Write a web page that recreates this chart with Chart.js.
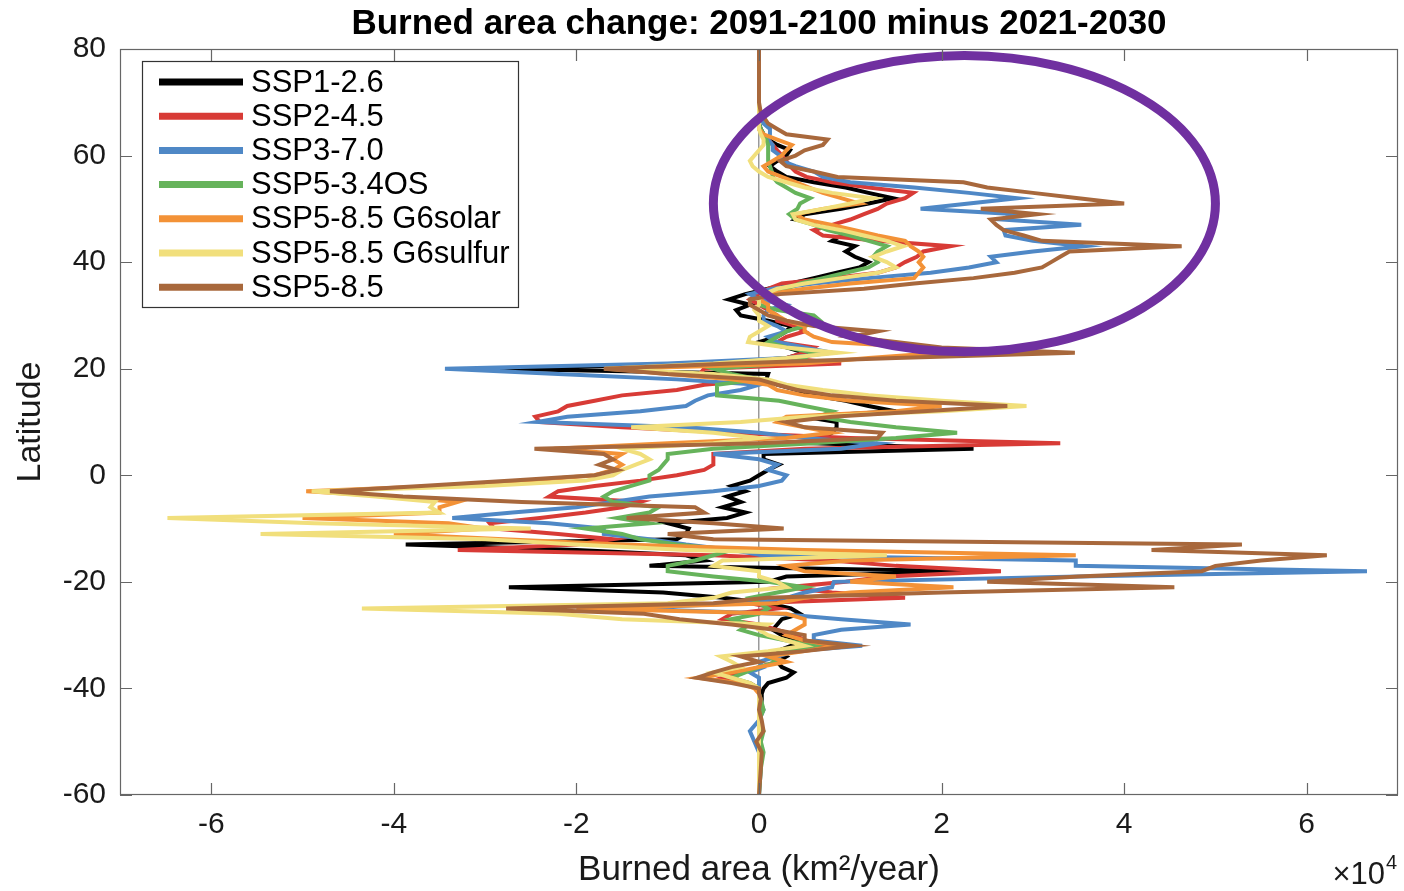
<!DOCTYPE html>
<html>
<head>
<meta charset="utf-8">
<title>Burned area change</title>
<script src="https://cdn.jsdelivr.net/npm/chart.js@4.4.1/dist/chart.umd.min.js"></script>
<style>
  html, body { margin: 0; padding: 0; background: #fff; }
  #chart { display: block; }
</style>
</head>
<body>
<canvas id="chart" width="1404" height="891"></canvas>
<script>
// latitude grid shared by all scenarios (deg N)
var latitudes = [
  -60, -55, -52, -50, -48, -46, -44, -42,
  -41, -40, -39, -38, -37, -36, -35, -34, -33, -32, -31,
  -30, -29, -28, -27, -26, -25, -24, -23, -22, -21,
  -20, -19, -18, -17, -16, -15, -14, -13, -12, -11,
  -10, -9, -8, -7, -6, -5, -4, -3, -2, -1,
  0, 1, 2, 3, 4, 5, 6, 7, 8, 9,
  10, 11, 12, 13, 14, 15, 16, 17, 18, 19,
  20, 21, 22, 23, 24, 25, 26, 27, 28, 29,
  30, 31, 32, 33, 34, 35, 36, 37, 38, 39,
  40, 41, 42, 43, 44, 45, 46, 47, 48, 49,
  50, 51, 52, 53, 54, 55, 56, 57, 58, 59,
  60, 61, 62, 63, 64, 65, 66,
  68, 70, 80
];

// burned area change, units of 10^4 km2/year
var ssp126 = [
  0, 0, 0.02, 0, 0.02, 0, 0.02, 0.03,
  0.03, 0.05, 0.1, 0.3, 0.38, 0.25, 0.2, 0.3, 0.2, 0.35, 0.45,
  0.25, 0.15, 0.2, 0.25, 0.45, 0.35, 0.1, -0.4, -1.05, -2.74,
  0.1, 0.3, 2.28, -1.2, -0.6, -0.8, -2.0, -3.87, -0.9, -0.8,
  -0.77, -1.0, -0.35, -0.15, -0.4, -0.2, -0.35, -0.15, -0.3, -0.1,
  0.0, 0.1, 0.22, 0.05, 0.05, 2.35, 0.6, 0.7, 0.8, 0.85,
  0.85, 0.5, 1.5, 1.2, 0.95, 0.6, 0.42, 0.2, 0.08, 0.1,
  -2.9, -0.5, 0.3, 0.5, 0.3, 0.0, 0.2, 0.3, 0.35, 0.1,
  -0.2, -0.25, -0.1, -0.33, -0.15, 0.1, 0.35, 0.6, 0.85, 1.1,
  1.2, 1.05, 0.95, 1.05, 0.8, 0.9, 1.0, 0.75, 0.4, 0.5,
  0.9, 1.2, 1.47, 1.2, 0.95, 0.6, 0.3, 0.2, 0.12, 0.2,
  0.3, 0.34, 0.2, 0.1, 0.05, 0.02, 0,
  0, 0, 0
];
var ssp245 = [
  0, 0, 0, 0.02, 0, 0, 0.02, 0,
  0, 0, -0.1, -0.4, -0.2, 0.0, 0.2, 0.15, 0.4, 0.8, 0.5,
  0.4, 0.2, 0.0, -0.4, -0.3, 0.2, -0.1, 1.6, 0.8, 0.3,
  0.95, 1.4, 2.65, 1.5, 0.8, -0.5, -3.3, -2.0, -1.6, -2.2,
  -2.9, -2.95, -2.4, -1.9, -1.5, -1.3, -2.3, -2.2, -1.8, -1.3,
  -0.9, -0.6, -0.5, -0.5, -0.5, 0.5, 3.3, 1.0, -0.3, -1.5,
  -2.4, -2.45, -2.2, -2.1, -1.8, -1.5, -0.9, -0.6, 0.05, -0.65,
  -0.6, 0.9, 0.3, 0.5, 0.6, 0.2, 0.3, 0.5, 0.4, 0.2,
  0.2, 0.1, 0.0, -0.1, 0.0, 0.1, 0.25, 0.8, 1.3, 1.5,
  1.6, 1.73, 1.8, 2.1, 1.3, 0.7, 0.6, 0.8, 1.0, 1.15,
  1.3, 1.4, 1.6, 1.69, 1.2, 0.8, 0.52, 0.4, 0.34, 0.3,
  0.25, 0.2, 0.15, 0.1, 0.05, 0.0, 0,
  0, 0, 0
];
var ssp370 = [
  0, 0.02, 0.0, -0.05, -0.1, 0.0, 0.05, 0.0,
  0.0, 0.0, 0.0, 0.0, -0.1, 0.05, 0.0, 0.2, 0.4, 1.13, 0.6,
  0.6, 0.9, 1.66, 0.9, 0.2, -1.5, -0.2, 0.3, 0.5, 0.8,
  0.82, 3.5, 6.66, 3.47, 3.47, 0.03, -0.3, -0.8, -1.2, -1.7,
  -1.7, -2.3, -3.36, -2.7, -2.0, -1.6, -1.2, -0.5, 0.0, 0.25,
  0.3, 0.1, 0.2, 0.0, -0.5, 0.9, 1.3, 0.5, 0.0, -0.8,
  -2.43, -2.1, -1.3, -0.8, -0.7, -0.56, -0.2, 0.0, -0.9, -2.2,
  -3.44, -1.0, 0.3, 0.8, 0.5, 0.2, 0.1, 0.3, 0.2, 0.05,
  0.05, 0.1, 0.28, 0.0, -0.1, 0.15, 0.6, 1.2, 1.88, 2.3,
  2.6, 2.54, 3.0, 3.56, 3.0, 2.7, 2.68, 3.53, 2.65, 2.83,
  1.77, 2.3, 2.83, 2.3, 1.7, 1.0, 0.7, 0.6, 0.4, 0.25,
  0.23, 0.15, 0.15, 0.1, 0.12, 0.12, 0.05,
  0, 0, 0
];
var ssp534os = [
  0, 0.02, 0.05, 0.02, 0.05, 0.0, 0.05, 0.02,
  0.0, 0.0, -0.1, -0.3, -0.15, 0.0, 0.2, 0.1, 0.3, 0.6, 0.3,
  0.0, -0.2, -0.1, -0.3, 0.0, 0.1, 0.0, -0.1, 0.2, 0.5,
  0.1, -0.5, -1.0, -1.0, -0.7, -0.5, -0.3, -0.9, -1.3, -1.5,
  -1.9, -1.2, -1.55, -1.2, -1.1, -1.6, -1.7, -1.6, -1.4, -1.2,
  -1.2, -1.1, -1.05, -1.0, -1.0, -0.5, 0.6, 1.5, 2.17, 1.5,
  1.0, 0.65, 0.8, 0.5, 0.22, -0.46, -0.46, -0.46, 0.0, -0.3,
  -0.5, 0.3, 0.5, 0.6, 0.3, 0.1, 0.2, 0.3, 0.5, 0.67,
  0.6, 0.2, 0.0, 0.0, 0.05, 0.3, 0.45, 0.7, 0.95, 1.2,
  1.3, 1.25, 1.3, 1.4, 1.2, 1.0, 0.75, 0.6, 0.4, 0.33,
  0.42, 0.45, 0.56, 0.4, 0.3, 0.2, 0.15, 0.14, 0.12, 0.1,
  0.1, 0.1, 0.1, 0.08, 0.05, 0.02, 0,
  0, 0, 0
];
var g6solar = [
  0, 0, 0, 0, 0, 0, 0, 0,
  0, -0.05, -0.2, -0.67, -0.3, 0.0, 0.3, 0.1, 0.5, 0.86, 0.5,
  0.3, 0.4, 0.5, 0.5, 0.3, -2.0, 0.2, 0.5, 1.0, 2.13,
  1.0, 1.5, 0.5, 0.3, 1.0, 3.47, 0.5, -1.5, -2.8, -4.0,
  -3.0, -3.4, -5.0, -3.5, -3.5, -3.3, -4.0, -4.96, -3.5, -2.5,
  -1.8, -1.6, -1.5, -1.6, -1.5, -2.25, -1.0, 0.3, 0.8, 0.5,
  0.2, 0.3, 1.5, 2.0, 1.0, 0.5, 0.2, 0.1, -0.3, -1.0,
  -1.6, 0.5, 1.2, 2.0, 1.8, 0.8, 0.6, 0.5, 0.5, 0.3,
  0.2, 0.1, 0.1, 0.0, 0.1, 0.5, 1.0, 1.7, 1.75, 1.8,
  1.75, 1.8, 1.75, 1.66, 1.6, 1.3, 1.05, 0.8, 0.5, 0.4,
  0.7, 1.1, 0.9, 0.7, 0.55, 0.4, 0.25, 0.1, 0.05, 0.15,
  0.25, 0.3, 0.36, 0.2, 0.05, 0.0, 0,
  0, 0, 0
];
var g6sulfur = [
  0, 0, 0, 0, 0, 0, 0, 0,
  0, 0, -0.1, -0.3, -0.5, -0.2, -0.3, -0.42, 0.1, 0.5, 0.3,
  0.1, 0.0, 0.1, -1.5, -2.2, -4.35, -1.0, -0.5, -0.3, 0.3,
  0.2, 0.0, 0.0, -0.5, -0.4, 1.4, -0.8, -2.0, -3.0, -5.46,
  -2.5, -4.87, -6.48, -3.5, -3.6, -3.55, -4.2, -4.9, -3.0, -1.9,
  -1.6, -1.5, -1.35, -1.2, -1.3, -1.5, -0.5, 0.0, -0.5, -1.4,
  -0.2, 0.5, 2.0, 2.93, 2.0, 1.2, 0.7, 0.3, 0.1, -0.5,
  -1.69, -0.5, 0.3, 0.87, 0.3, -0.12, -0.1, 0.0, 0.1, 0.0,
  0.0, -0.05, 0.0, 0.0, 0.05, 0.2, 0.5, 0.9, 1.3, 1.5,
  1.4, 1.25, 1.4, 1.58, 1.4, 1.15, 0.9, 0.6, 0.4, 0.37,
  0.7, 1.0, 1.25, 0.8, 0.5, 0.3, 0.1, 0.0, -0.07, -0.1,
  -0.05, 0.0, 0.05, 0.05, 0.02, 0.0, 0,
  0, 0, 0
];
var ssp585 = [
  0, 0.02, 0.03, -0.03, 0.05, 0.03, 0.0, 0.02,
  0.0, 0.0, -0.3, -0.68, -0.5, -0.3, 0.0, -0.2, 0.5, 1.03, 0.5,
  0.5, 0.17, -0.3, -0.87, -1.26, -2.77, -0.5, 0.09, 2.0, 4.55,
  2.5, 3.5, 4.85, 5.0, 5.5, 6.22, 4.3, 5.29, -0.5, -1.0,
  0.27, -0.5, -1.45, -0.6, -0.7, -2.6, -3.9, -4.7, -3.7, -2.7,
  -1.8, -1.55, -1.75, -1.6, -1.7, -2.46, 0.0, 1.3, 1.35, 0.5,
  0.3, 0.8, 1.8, 2.72, 1.5, 0.8, 0.42, 0.2, 0.0, -1.0,
  -1.7, -0.3, 1.5, 3.46, 2.0, 1.5, 1.0, 1.3, 0.6, 0.3,
  0.1, 0.0, -0.1, -0.1, 0.23, 1.15, 1.7, 2.35, 2.8, 3.1,
  3.2, 3.3, 3.4, 4.63, 3.1, 2.9, 2.68, 2.6, 2.54, 3.05,
  2.43, 4.0, 3.5, 3.0, 2.5, 2.24, 0.86, 0.6, 0.3, 0.23,
  0.4, 0.5, 0.7, 0.75, 0.3, 0.2, 0.1,
  0.02, 0, 0
];

var scenarioNames = ['SSP1-2.6', 'SSP2-4.5', 'SSP3-7.0', 'SSP5-3.4OS', 'SSP5-8.5 G6solar', 'SSP5-8.5 G6sulfur', 'SSP5-8.5'];
var scenarioValues = [ssp126, ssp245, ssp370, ssp534os, g6solar, g6sulfur, ssp585];
var scenarioColors = ['#000000', '#d83b36', '#4f88c6', '#66b35b', '#f39237', '#f1df7c', '#a8683c'];

var xTicks = [-6, -4, -2, 0, 2, 4, 6];
var yTicks = [-60, -40, -20, 0, 20, 40, 60, 80];

// highlighted region (purple ellipse), in data units
var highlight = { x: 2.25, y: 51, rx: 2.75, ry: 27.8 };

Chart.defaults.font.family = '"Liberation Sans", Arial, Helvetica, sans-serif';
Chart.defaults.color = '#1a1a1a';

var datasets = scenarioNames.map(function (name, i) {
    return {
        label: name,
        data: latitudes.map(function (lat, j) { return { x: scenarioValues[i][j], y: lat }; }),
        borderColor: scenarioColors[i],
        backgroundColor: scenarioColors[i],
        borderWidth: 4,
        showLine: true,
        pointRadius: 0,
        tension: 0,
        order: scenarioNames.length - i
    };
});

// box, inward ticks, ellipse, legend, exponent label
var matlabAxes = {
    id: 'matlabAxes',
    afterDatasetsDraw: function (chart) {
        var ctx = chart.ctx, a = chart.chartArea;
        var xs = chart.scales.x, ys = chart.scales.y;
        ctx.save();

        // ellipse
        var cx = xs.getPixelForValue(highlight.x);
        var cy = ys.getPixelForValue(highlight.y);
        var rx = xs.getPixelForValue(highlight.x + highlight.rx) - cx;
        var ry = cy - ys.getPixelForValue(highlight.y + highlight.ry);
        ctx.beginPath();
        ctx.ellipse(cx, cy, rx, ry, 0, 0, Math.PI * 2);
        ctx.strokeStyle = '#7030a0';
        ctx.lineWidth = 9;
        ctx.stroke();

        // axes box
        ctx.strokeStyle = '#666666';
        ctx.lineWidth = 1.2;
        ctx.strokeRect(a.left + 0.5, a.top + 0.5, a.width - 1, a.height - 1);

        // tick marks pointing inwards
        ctx.beginPath();
        xTicks.forEach(function (v) {
            var px = Math.round(xs.getPixelForValue(v)) + 0.5;
            ctx.moveTo(px, a.bottom); ctx.lineTo(px, a.bottom - 12);
            ctx.moveTo(px, a.top); ctx.lineTo(px, a.top + 12);
        });
        yTicks.forEach(function (v) {
            var py = Math.round(ys.getPixelForValue(v)) + 0.5;
            ctx.moveTo(a.left, py); ctx.lineTo(a.left + 12, py);
            ctx.moveTo(a.right, py); ctx.lineTo(a.right - 12, py);
        });
        ctx.stroke();

        // legend box
        var lx = a.left + 22, ly = a.top + 12, lw = 376, lh = 246;
        ctx.fillStyle = '#ffffff';
        ctx.fillRect(lx, ly, lw, lh);
        ctx.strokeStyle = '#333333';
        ctx.lineWidth = 1.2;
        ctx.strokeRect(lx + 0.5, ly + 0.5, lw, lh);
        ctx.font = '31px "Liberation Sans", Arial, sans-serif';
        ctx.textBaseline = 'middle';
        ctx.textAlign = 'left';
        chart.data.datasets.forEach(function (ds, i) {
            var rowY = ly + 21 + i * 34.2;
            ctx.beginPath();
            ctx.moveTo(lx + 17, rowY);
            ctx.lineTo(lx + 101, rowY);
            ctx.strokeStyle = ds.borderColor;
            ctx.lineWidth = 7;
            ctx.stroke();
            ctx.fillStyle = '#000000';
            ctx.fillText(ds.label, lx + 109, rowY + 1);
        });

        // x10^4 multiplier
        ctx.fillStyle = '#1a1a1a';
        ctx.textBaseline = 'alphabetic';
        ctx.textAlign = 'right';
        ctx.font = '31px "Liberation Sans", Arial, sans-serif';
        ctx.fillText('\u00d710', a.right - 13, chart.height - 7);
        ctx.font = '20px "Liberation Sans", Arial, sans-serif';
        ctx.fillText('4', a.right - 1, chart.height - 22);

        ctx.restore();
    }
};

new Chart(document.getElementById('chart'), {
    type: 'scatter',
    data: { datasets: datasets },
    options: {
        responsive: false,
        animation: false,
        layout: { padding: { left: 0, right: 6, top: 0, bottom: 0 } },
        plugins: {
            legend: { display: false },
            tooltip: { enabled: false },
            title: {
                display: true,
                fullSize: false,
                text: 'Burned area change: 2091-2100 minus 2021-2030',
                color: '#000000',
                font: { size: 35, weight: 'bold' },
                padding: { top: 3, bottom: 4 }
            }
        },
        scales: {
            x: {
                type: 'linear',
                min: -7,
                max: 7,
                afterBuildTicks: function (scale) {
                    scale.ticks = xTicks.map(function (v) { return { value: v }; });
                },
                afterFit: function (scale) { scale.height = 96; },
                grid: {
                    drawTicks: false,
                    lineWidth: 1.5,
                    color: function (c) { return c.tick && c.tick.value === 0 ? '#9a9a9a' : 'rgba(0,0,0,0)'; }
                },
                border: { display: false },
                ticks: { padding: 12, font: { size: 30 }, color: '#1a1a1a' },
                title: {
                    display: true,
                    text: 'Burned area (km\u00b2/year)',
                    font: { size: 35 },
                    color: '#1a1a1a',
                    padding: { top: 0, bottom: 0 }
                }
            },
            y: {
                type: 'linear',
                min: -60,
                max: 80,
                afterBuildTicks: function (scale) {
                    scale.ticks = yTicks.map(function (v) { return { value: v }; });
                },
                afterFit: function (scale) { scale.width = 120; },
                grid: { display: false, drawTicks: false },
                border: { display: false },
                ticks: { padding: 14, font: { size: 30 }, color: '#1a1a1a' },
                title: {
                    display: true,
                    text: 'Latitude',
                    font: { size: 34 },
                    color: '#1a1a1a',
                    padding: { top: 10, bottom: 0 }
                }
            }
        }
    },
    plugins: [matlabAxes]
});
</script>
</body>
</html>
